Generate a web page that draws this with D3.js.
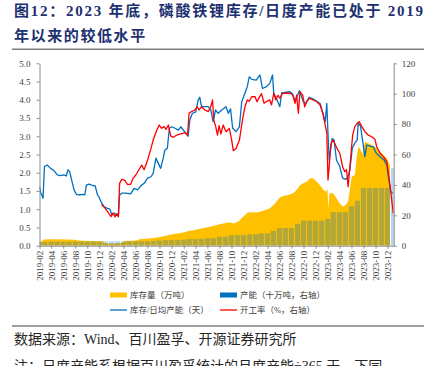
<!DOCTYPE html>
<html>
<head>
<meta charset="utf-8">
<script src="https://cdn.jsdelivr.net/npm/d3@7"></script>
<style>
  html, body { margin: 0; padding: 0; background: #fff; }
  svg { display: block; }
  .axis text { font-family: "Liberation Serif", "Times New Roman", serif; font-size: 9px; fill: #404040; }
  .axis path, .axis line { stroke: #8c8c8c; }
  .legend text { font-family: "Liberation Serif", "Noto Sans CJK SC", serif; font-size: 8.5px; fill: #404040; }
</style>
</head>
<body>
<svg id="chart" width="429" height="366"></svg>
<script>
// monthly capacity bars (十万吨, right axis)
const capMonths = [
  "2019-02","2019-03","2019-04","2019-05","2019-06","2019-07","2019-08","2019-09","2019-10","2019-11","2019-12",
  "2020-01","2020-02","2020-03","2020-04","2020-05","2020-06","2020-07","2020-08","2020-09","2020-10","2020-11","2020-12",
  "2021-01","2021-02","2021-03","2021-04","2021-05","2021-06","2021-07","2021-08","2021-09","2021-10","2021-11","2021-12",
  "2022-01","2022-02","2022-03","2022-04","2022-05","2022-06","2022-07","2022-08","2022-09","2022-10","2022-11","2022-12",
  "2023-01","2023-02","2023-03","2023-04","2023-05","2023-06","2023-07","2023-08","2023-09","2023-10","2023-11","2023-12",
  "2024-01"
];
const capValues = [
  2.5, 2.5, 2.6, 2.6, 2.6, 2.6, 2.7, 2.7, 2.7, 2.7, 2.8,
  2.8, 2.8, 2.8, 2.8, 2.9, 2.9, 3.0, 3.0, 3.2, 3.4, 3.6, 3.7,
  3.8, 4.0, 4.4, 4.4, 4.6, 4.9, 4.9, 5.9, 5.9, 7.0, 7.0, 7.0,
  7.5, 7.5, 8.1, 8.1, 9.7, 11.6, 11.6, 11.6, 14.3, 16.5, 16.5, 16.5,
  16.5, 17.6, 22, 22, 22, 26, 29.6, 38, 38, 38, 38, 38,
  51
];

// inventory (万吨, left axis)
const inventory = [
  ["2019-02-01",0.11],["2019-02-13",0.12],["2019-02-22",0.17],["2019-04-18",0.175],["2019-06-28",0.17],
  ["2019-07-29",0.16],["2019-08-18",0.14],["2019-10-13",0.13],["2019-12-18",0.12],["2019-12-28",0.07],
  ["2020-02-17",0.06],["2020-03-24",0.08],["2020-04-08",0.13],["2020-06-03",0.14],["2020-06-23",0.18],
  ["2020-08-08",0.20],["2020-09-13",0.22],["2020-10-18",0.25],["2020-11-23",0.30],["2020-12-23",0.33],
  ["2021-01-29",0.36],["2021-02-26",0.40],["2021-03-29",0.43],["2021-04-18",0.46],["2021-05-19",0.49],
  ["2021-06-13",0.52],["2021-07-17",0.57],["2021-08-20",0.61],["2021-09-23",0.64],["2021-10-10",0.61],
  ["2021-11-05",0.66],["2021-11-30",0.80],["2021-12-25",0.92],["2022-02-07",0.91],["2022-03-10",0.96],
  ["2022-04-13",1.02],["2022-05-08",1.15],["2022-06-03",1.32],["2022-06-20",1.36],["2022-07-15",1.39],
  ["2022-08-10",1.44],["2022-08-27",1.53],["2022-09-13",1.66],["2022-09-30",1.71],["2022-10-17",1.75],
  ["2022-11-03",1.85],["2022-11-18",1.85],["2022-12-07",1.75],["2022-12-24",1.66],["2023-01-10",1.53],
  ["2023-01-23",1.48],["2023-01-30",1.57],["2023-02-04",1.00],["2023-02-09",1.44],["2023-02-28",1.44],
  ["2023-03-17",1.30],["2023-04-03",1.16],["2023-04-20",1.07],["2023-05-03",1.12],["2023-05-15",1.21],
  ["2023-05-24",1.53],["2023-06-02",1.89],["2023-06-18",1.94],["2023-06-28",2.45],["2023-07-06",2.72],
  ["2023-07-17",2.63],["2023-07-27",2.49],["2023-08-08",2.85],["2023-08-25",2.81],["2023-09-12",2.76],
  ["2023-10-07",2.67],["2023-11-02",2.53],["2023-11-27",2.40],["2023-12-13",2.20]
];

// inventory / daily capacity (天, left axis)
const invDays = [
  ["2019-02-01",1.62],["2019-02-08",1.44],["2019-02-13",1.39],["2019-02-19",1.30],["2019-02-26",2.17],
  ["2019-03-12",2.21],["2019-03-29",2.12],["2019-04-15",2.06],["2019-05-02",1.94],["2019-05-19",1.92],
  ["2019-06-05",1.94],["2019-06-17",1.91],["2019-06-25",2.08],["2019-07-04",2.03],["2019-07-14",1.80],
  ["2019-07-26",1.53],["2019-08-07",1.41],["2019-08-20",1.39],["2019-09-07",1.41],["2019-09-18",1.39],
  ["2019-09-27",1.66],["2019-10-10",1.69],["2019-10-28",1.65],["2019-11-10",1.64],["2019-11-22",1.39],
  ["2019-11-30",1.33],["2019-12-12",1.18],["2019-12-25",1.07],["2020-01-12",1.02],["2020-01-24",1.00],
  ["2020-02-03",0.84],["2020-02-14",0.90],["2020-02-26",0.84],["2020-03-07",0.88],["2020-03-13",1.39],
  ["2020-03-24",1.44],["2020-04-13",1.44],["2020-05-08",1.42],["2020-05-25",1.57],["2020-06-12",1.53],
  ["2020-06-28",1.64],["2020-07-15",1.71],["2020-08-02",1.85],["2020-08-19",1.89],["2020-08-30",1.98],
  ["2020-09-13",2.40],["2020-10-07",2.12],["2020-10-20",2.40],["2020-10-28",2.62],["2020-11-10",2.67],
  ["2020-11-20",3.22],["2020-12-02",3.26],["2020-12-19",3.22],["2021-01-05",3.17],["2021-01-17",3.26],
  ["2021-02-12",3.08],["2021-02-23",3.00],["2021-03-04",3.45],["2021-03-17",3.63],["2021-04-03",3.67],
  ["2021-04-15",3.99],["2021-04-23",4.07],["2021-05-02",3.81],["2021-06-05",3.81],["2021-06-18",3.72],
  ["2021-06-30",3.40],["2021-07-12",3.72],["2021-07-25",3.63],["2021-08-13",3.72],["2021-09-03",3.81],
  ["2021-09-15",3.63],["2021-09-26",3.75],["2021-10-07",3.22],["2021-10-24",3.13],["2021-11-10",3.26],
  ["2021-11-22",3.95],["2021-12-08",4.18],["2021-12-20",4.36],["2021-12-30",4.63],["2022-01-12",4.56],
  ["2022-02-03",4.54],["2022-02-22",4.68],["2022-03-07",4.31],["2022-03-27",4.36],["2022-04-13",4.45],
  ["2022-04-27",4.68],["2022-05-03",4.18],["2022-05-13",4.08],["2022-06-03",3.81],["2022-06-12",4.19],
  ["2022-06-28",4.20],["2022-07-24",4.22],["2022-08-07",4.16],["2022-08-19",3.95],["2022-09-10",4.25],
  ["2022-09-30",3.95],["2022-10-13",3.90],["2022-10-30",4.07],["2022-11-20",4.02],["2022-12-07",3.96],
  ["2022-12-24",3.90],["2023-01-07",3.63],["2023-01-19",3.40],["2023-01-27",3.90],["2023-02-02",3.08],
  ["2023-02-08",2.35],["2023-02-23",2.94],["2023-03-05",2.90],["2023-03-17",2.35],["2023-04-03",2.17],
  ["2023-04-17",1.85],["2023-05-03",1.82],["2023-05-15",1.90],["2023-05-24",2.08],["2023-06-05",2.67],
  ["2023-06-18",2.81],["2023-06-30",2.90],["2023-07-05",3.36],["2023-07-17",3.27],["2023-07-27",2.90],
  ["2023-08-08",2.44],["2023-08-17",2.76],["2023-09-03",2.73],["2023-09-20",2.71],["2023-10-03",2.55],
  ["2023-10-24",2.44],["2023-11-13",2.35],["2023-11-27",2.21],["2023-12-05",1.89],["2023-12-17",1.48],
  ["2023-12-27",1.44]
];

// operating rate (%, right axis)
const opRate = [
  ["2019-12-12",27],["2019-12-25",25.5],["2020-01-12",22.4],["2020-01-29",19.1],["2020-02-08",21.5],
  ["2020-02-19",19],["2020-02-26",21],["2020-03-07",19],["2020-03-13",41],["2020-03-24",43.7],
  ["2020-04-08",43],["2020-04-22",40.4],["2020-05-08",40.4],["2020-05-20",44.3],["2020-06-03",46.5],
  ["2020-06-20",50.3],["2020-07-03",53],["2020-07-15",50],["2020-08-02",56.4],["2020-08-19",64],
  ["2020-08-30",69.5],["2020-09-17",76],["2020-09-30",79.4],["2020-10-12",77.2],["2020-10-24",78.5],
  ["2020-11-03",76.5],["2020-11-15",79.4],["2020-11-27",72.2],["2020-12-10",71.3],["2020-12-28",72.8],
  ["2021-01-17",73.5],["2021-02-08",74.3],["2021-02-20",72.8],["2021-02-28",87.1],["2021-03-12",88.2],
  ["2021-03-29",89.3],["2021-04-10",91.4],["2021-04-20",89.3],["2021-05-02",91.4],["2021-05-19",89.3],
  ["2021-06-05",88.2],["2021-06-18",91.4],["2021-06-27",95.9],["2021-07-03",82.7],["2021-07-13",78.3],
  ["2021-07-22",72.8],["2021-07-30",79],["2021-08-08",73.5],["2021-08-20",79.4],["2021-09-03",75],
  ["2021-09-20",77.2],["2021-10-02",69.5],["2021-10-10",62.5],["2021-10-24",64],["2021-11-10",69.5],
  ["2021-11-27",83.8],["2021-12-08",91.4],["2021-12-20",95.9],["2021-12-30",95],["2022-01-12",98],
  ["2022-01-29",98],["2022-02-07",94.7],["2022-02-19",97.6],["2022-03-02",100],["2022-03-15",93.7],
  ["2022-03-29",95],["2022-04-13",95.9],["2022-04-22",92.6],["2022-05-03",100.3],["2022-05-13",96],
  ["2022-05-25",99],["2022-06-03",97],["2022-06-17",100.3],["2022-07-27",100.3],["2022-08-08",99],
  ["2022-08-19",93.7],["2022-08-27",99],["2022-09-05",87.1],["2022-09-13",101.3],["2022-09-27",99],
  ["2022-10-07",91.4],["2022-10-17",94.7],["2022-10-30",97],["2022-11-18",96],["2022-12-07",94.7],
  ["2022-12-24",92.6],["2023-01-07",87.1],["2023-01-19",79.4],["2023-01-27",74],["2023-02-02",43.2],
  ["2023-02-08",52],["2023-02-17",67.4],["2023-02-28",69.5],["2023-03-17",64.7],["2023-04-03",60.8],
  ["2023-04-17",52],["2023-04-28",48.7],["2023-05-07",50],["2023-05-15",38.8],["2023-05-27",56.4],
  ["2023-06-07",72.8],["2023-06-18",78.3],["2023-06-30",80.5],["2023-07-10",81.6],["2023-07-23",78.5],
  ["2023-08-08",75],["2023-08-25",72.8],["2023-09-12",71.7],["2023-09-28",70],["2023-10-07",65.1],
  ["2023-10-24",60.8],["2023-11-10",58.6],["2023-11-27",55.3],["2023-12-10",43.2],["2023-12-22",30],
  ["2023-12-30",21.3]
];

const tickMonths = [
  "2019-02","2019-04","2019-06","2019-08","2019-10","2019-12",
  "2020-02","2020-04","2020-06","2020-08","2020-10","2020-12",
  "2021-02","2021-04","2021-06","2021-08","2021-10","2021-12",
  "2022-02","2022-04","2022-06","2022-08","2022-10","2022-12",
  "2023-02","2023-04","2023-06","2023-08","2023-10","2023-12"
];
const leftTicks = [0, 0.5, 1, 1.5, 2, 2.5, 3, 3.5, 4, 4.5, 5];
const rightTicks = [0, 20, 40, 60, 80, 100, 120];

const legendItems = [
  { label: "库存量（万吨）", kind: "rect", color: "#FFC000" },
  { label: "产能（十万吨，右轴）", kind: "rect", color: "#0070C0" },
  { label: "库存/日均产能（天）", kind: "line", color: "#0070C0" },
  { label: "开工率（%，右轴）", kind: "line", color: "#FF0000" }
];

const parseDay = d3.timeParse("%Y-%m-%d");
const parseMonth = d3.timeParse("%Y-%m");

const plot = { left: 39.5, right: 393.7, top: 63.3, bottom: 245.7 };

const svg = d3.select("#chart");

const x = d3.scaleTime()
  .domain([parseMonth("2019-02"), parseMonth("2024-01")])
  .range([plot.left, plot.right]);
const yL = d3.scaleLinear().domain([0, 5]).range([plot.bottom, plot.top]);
const yR = d3.scaleLinear().domain([0, 120]).range([plot.bottom, plot.top]);

svg.append("defs").append("clipPath").attr("id", "plotClip")
  .append("rect")
  .attr("x", plot.left).attr("y", plot.top - 5)
  .attr("width", plot.right - plot.left).attr("height", plot.bottom - plot.top + 5);

// title
const titleFont = '"Liberation Serif", "Noto Sans CJK SC", serif';
svg.append("text")
  .attr("x", 14).attr("y", 16)
  .attr("font-family", titleFont).attr("font-weight", "bold").attr("font-size", 15)
  .attr("fill", "#1d3170")
  .attr("textLength", 409).attr("lengthAdjust", "spacing")
  .text("图12：2023 年底，磷酸铁锂库存/日度产能已处于 2019");
svg.append("text")
  .attr("x", 14).attr("y", 40.5)
  .attr("font-family", titleFont).attr("font-weight", "bold").attr("font-size", 15)
  .attr("fill", "#1d3170")
  .attr("letter-spacing", 1.6)
  .text("年以来的较低水平");

svg.append("line")
  .attr("x1", 12).attr("x2", 424).attr("y1", 49.3).attr("y2", 49.3)
  .attr("stroke", "#7f7f7f").attr("stroke-width", 1.5);

const gPlot = svg.append("g").attr("clip-path", "url(#plotClip)");

// inventory area
const invData = inventory.map(([d, v]) => ({ date: parseDay(d), v }));
gPlot.append("path")
  .datum(invData)
  .attr("fill", "#FFC000")
  .attr("d", d3.area()
    .x(d => x(d.date))
    .y0(yL(0))
    .y1(d => yL(d.v)));

// capacity bars (semi-transparent, drawn over area)
const barW = 5.2;
gPlot.append("g")
  .selectAll("rect")
  .data(capMonths.map((m, i) => ({ date: parseMonth(m), v: capValues[i] })))
  .join("rect")
  .attr("x", d => x(d.date) - barW / 2)
  .attr("y", d => yR(d.v))
  .attr("width", barW)
  .attr("height", d => yR(0) - yR(d.v))
  .attr("fill", "#0070C0")
  .attr("fill-opacity", 0.3);

// lines
gPlot.append("path")
  .datum(invDays.map(([d, v]) => ({ date: parseDay(d), v })))
  .attr("fill", "none")
  .attr("stroke", "#0070C0")
  .attr("stroke-width", 1.3)
  .attr("stroke-linejoin", "round")
  .attr("d", d3.line().x(d => x(d.date)).y(d => yL(d.v)));

gPlot.append("path")
  .datum(opRate.map(([d, v]) => ({ date: parseDay(d), v })))
  .attr("fill", "none")
  .attr("stroke", "#FF0000")
  .attr("stroke-width", 1.3)
  .attr("stroke-linejoin", "round")
  .attr("d", d3.line().x(d => x(d.date)).y(d => yR(d.v)));

// axes
svg.append("g")
  .attr("class", "axis")
  .attr("transform", `translate(${plot.left},0)`)
  .call(d3.axisLeft(yL).tickValues(leftTicks).tickFormat(d3.format(".1f")).tickSize(3).tickSizeOuter(0).tickPadding(6));

svg.append("g")
  .attr("class", "axis")
  .attr("transform", `translate(${plot.right},0)`)
  .call(d3.axisRight(yR).tickValues(rightTicks).tickSize(3).tickSizeOuter(0).tickPadding(5));

const xAxis = svg.append("g")
  .attr("class", "axis")
  .attr("transform", `translate(0,${plot.bottom})`)
  .call(d3.axisBottom(x)
    .tickValues(tickMonths.map(parseMonth))
    .tickFormat(d3.timeFormat("%Y-%m"))
    .tickSize(3).tickSizeOuter(0));

xAxis.selectAll("text")
  .attr("transform", "rotate(-90)")
  .attr("text-anchor", "end")
  .attr("x", -5)
  .attr("y", 0)
  .attr("dy", "0.35em");

// legend
const legend = svg.append("g").attr("class", "legend");
const legendPos = [
  { x: 110, y: 295 }, { x: 220, y: 295 },
  { x: 110, y: 310 }, { x: 220, y: 310 }
];
legendItems.forEach((item, i) => {
  const p = legendPos[i];
  const g = legend.append("g").attr("transform", `translate(${p.x},${p.y})`);
  if (item.kind === "rect") {
    g.append("rect").attr("x", 0).attr("y", -2.5).attr("width", 17).attr("height", 5).attr("fill", item.color);
  } else {
    g.append("line").attr("x1", 0).attr("x2", 17).attr("y1", 0).attr("y2", 0)
      .attr("stroke", item.color).attr("stroke-width", 1.3);
  }
  g.append("text").attr("x", 20).attr("y", 3).text(item.label);
});

// source and note
svg.append("line")
  .attr("x1", 12).attr("x2", 424).attr("y1", 326).attr("y2", 326)
  .attr("stroke", "#7f7f7f").attr("stroke-width", 1.5);

const noteFont = '"Liberation Serif", "Noto Sans CJK SC", serif';
svg.append("text")
  .attr("x", 14).attr("y", 344)
  .attr("font-family", noteFont).attr("font-size", 14).attr("fill", "#262626")
  .text("数据来源：Wind、百川盈孚、开源证券研究所");
svg.append("text")
  .attr("x", 14).attr("y", 371)
  .attr("font-family", noteFont).attr("font-size", 14).attr("fill", "#262626")
  .text("注：日度产能系根据百川盈孚统计的月度产能÷365 天，下同");
</script>
</body>
</html>
